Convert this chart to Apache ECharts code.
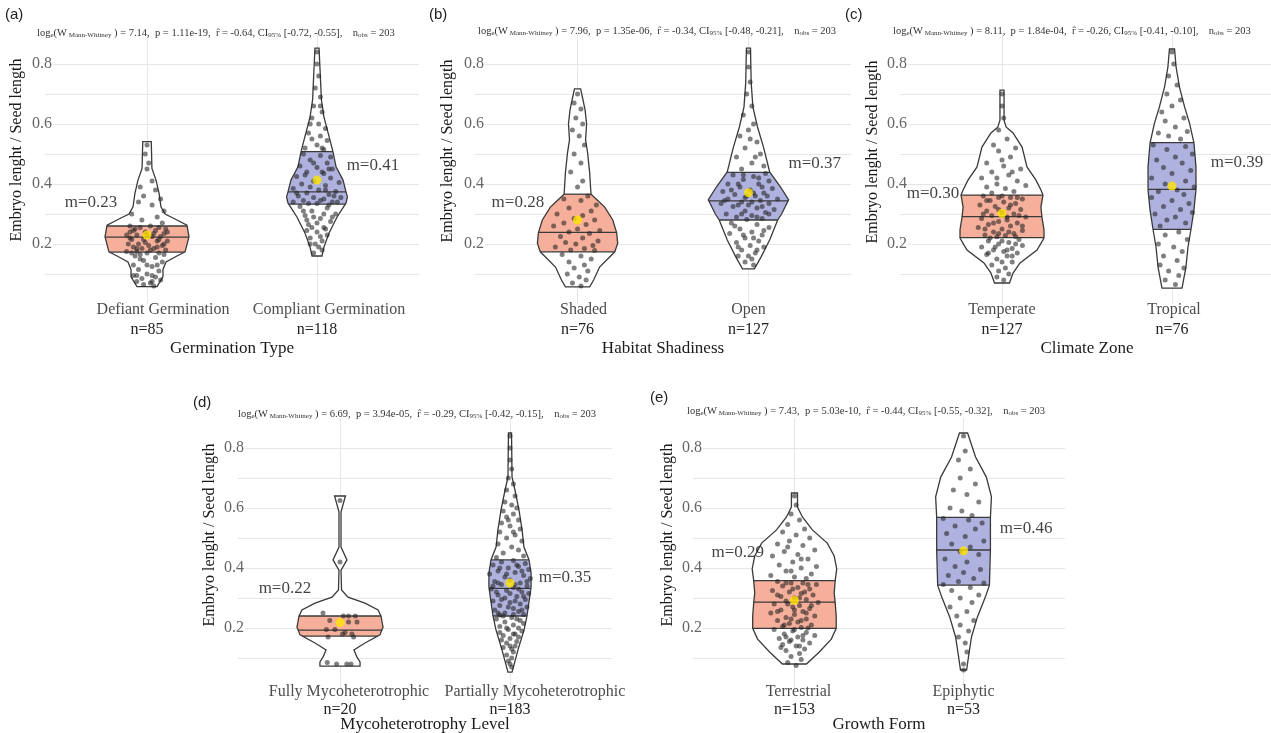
<!DOCTYPE html>
<html><head><meta charset="utf-8">
<script src="https://cdn.jsdelivr.net/npm/echarts@6/dist/echarts.min.js"></script>
<style>html,body{margin:0;padding:0;background:#fff}#c{width:1271px;height:733px}</style>
</head><body><div id="c"></div>
<script>
// ================= DATA =================
const yTickLabels = [0.2, 0.4, 0.6, 0.8];
const panelTags = ['(a)', '(b)', '(c)', '(d)', '(e)'];
const axisTitles = ['Germination Type', 'Habitat Shadiness', 'Climate Zone', 'Mycoheterotrophy Level', 'Growth Form'];
const yTitle = 'Embryo lenght / Seed length';

const categoriesA = ['Defiant Germination', 'Compliant Germination'];
const categoriesB = ['Shaded', 'Open'];
const categoriesC = ['Temperate', 'Tropical'];
const categoriesD = ['Fully Mycoheterotrophic', 'Partially Mycoheterotrophic'];
const categoriesE = ['Terrestrial', 'Epiphytic'];

const countsA = [85, 118];
const countsB = [76, 127];
const countsC = [127, 76];
const countsD = [20, 183];
const countsE = [153, 53];

// [log_e(W), p, r, CI low, CI high, n_obs]
const statsA = ['7.14', '1.11e-19', '-0.64', '-0.72', '-0.55', '203'];
const statsB = ['7.96', '1.35e-06', '-0.34', '-0.48', '-0.21', '203'];
const statsC = ['8.11', '1.84e-04', '-0.26', '-0.41', '-0.10', '203'];
const statsD = ['6.69', '3.94e-05', '-0.29', '-0.42', '-0.15', '203'];
const statsE = ['7.43', '5.03e-10', '-0.44', '-0.55', '-0.32', '203'];

// quartiles [Q1, median, Q3] per category
const quartilesA = [[0.173, 0.223, 0.26], [0.333, 0.374, 0.508]];
const quartilesB = [[0.174, 0.239, 0.366], [0.28, 0.344, 0.439]];
const quartilesC = [[0.221, 0.291, 0.363], [0.249, 0.382, 0.538]];
const quartilesD = [[0.173, 0.193, 0.24], [0.24, 0.332, 0.427]];
const quartilesE = [[0.199, 0.286, 0.358], [0.343, 0.46, 0.569]];

// means per category
const meansA = [0.23, 0.413];
const meansB = [0.28, 0.371];
const meansC = [0.302, 0.393];
const meansD = [0.218, 0.35];
const meansE = [0.292, 0.457];

// violin density outlines: [y, half-width (category units)], top to bottom
const violinA1 = [[0.541,0.025],[0.452,0.029],[0.413,0.053],[0.369,0.071],[0.324,0.082],[0.30,0.106],[0.285,0.159],[0.263,0.235],[0.224,0.247],[0.174,0.224],[0.16,0.176],[0.14,0.112],[0.115,0.094],[0.091,0.094],[0.058,0.059]];
const violinA2 = [[0.853,0.012],[0.78,0.018],[0.68,0.026],[0.623,0.041],[0.547,0.076],[0.507,0.094],[0.457,0.112],[0.413,0.153],[0.373,0.171],[0.357,0.179],[0.337,0.171],[0.29,0.118],[0.237,0.071],[0.19,0.041],[0.16,0.029]];
const violinB1 = [[0.717,0.018],[0.68,0.032],[0.647,0.044],[0.60,0.053],[0.547,0.047],[0.503,0.059],[0.437,0.071],[0.39,0.076],[0.366,0.079],[0.345,0.118],[0.323,0.159],[0.28,0.206],[0.237,0.229],[0.203,0.235],[0.174,0.218],[0.123,0.129],[0.08,0.094],[0.057,0.071]];
const violinB2 = [[0.853,0.012],[0.737,0.016],[0.657,0.026],[0.59,0.053],[0.523,0.088],[0.44,0.124],[0.39,0.188],[0.347,0.235],[0.30,0.194],[0.28,0.171],[0.213,0.124],[0.157,0.074],[0.117,0.035]];
const violinC1 = [[0.713,0.012],[0.613,0.012],[0.59,0.024],[0.57,0.065],[0.523,0.118],[0.457,0.147],[0.413,0.2],[0.38,0.229],[0.363,0.241],[0.323,0.229],[0.29,0.235],[0.247,0.247],[0.22,0.247],[0.18,0.206],[0.137,0.106],[0.103,0.065],[0.07,0.044]];
const violinC2 = [[0.85,0.015],[0.79,0.024],[0.723,0.044],[0.657,0.074],[0.603,0.103],[0.537,0.129],[0.457,0.141],[0.38,0.141],[0.313,0.129],[0.25,0.112],[0.19,0.094],[0.123,0.082],[0.053,0.059]];
const violinD1 = [[0.64,0.032],[0.587,0.006],[0.47,0.006],[0.427,0.041],[0.393,0.006],[0.327,0.009],[0.303,0.047],[0.283,0.147],[0.26,0.224],[0.24,0.241],[0.203,0.253],[0.177,0.235],[0.15,0.147],[0.127,0.082],[0.103,0.1],[0.087,0.118],[0.073,0.118]];
const violinD2 = [[0.85,0.009],[0.703,0.012],[0.66,0.029],[0.593,0.053],[0.527,0.071],[0.47,0.082],[0.427,0.112],[0.383,0.124],[0.337,0.124],[0.24,0.1],[0.193,0.082],[0.127,0.047],[0.053,0.012]];
const violinE1 = [[0.65,0.018],[0.603,0.018],[0.57,0.047],[0.527,0.106],[0.483,0.194],[0.44,0.235],[0.397,0.25],[0.358,0.241],[0.317,0.235],[0.283,0.241],[0.24,0.247],[0.199,0.247],[0.163,0.218],[0.12,0.147],[0.08,0.071]];
const violinE2 = [[0.85,0.024],[0.77,0.071],[0.703,0.135],[0.637,0.165],[0.57,0.159],[0.493,0.159],[0.46,0.159],[0.343,0.153],[0.303,0.129],[0.237,0.082],[0.17,0.047],[0.103,0.029],[0.06,0.018]];

// jittered observations: [x offset from category, y]
const pointsA1 = [[0.00,0.53],[-0.01,0.50],[0.01,0.47],[0.00,0.45],[0.03,0.41],[-0.04,0.39],[0.05,0.38],[-0.02,0.36],[0.08,0.35],[-0.05,0.34],[0.03,0.33],[0.10,0.31],[-0.09,0.30],[0.06,0.29],[-0.03,0.28],[0.09,0.27],
[-0.10,0.26],[-0.04,0.255],[0.02,0.26],[0.07,0.255],[0.11,0.25],[-0.08,0.245],[-0.01,0.24],[0.05,0.245],[0.10,0.235],[-0.12,0.23],[-0.06,0.23],[0.03,0.225],[0.08,0.225],[-0.09,0.215],[-0.02,0.215],[0.06,0.21],[0.12,0.21],[-0.11,0.20],[-0.05,0.20],[0.01,0.195],[0.09,0.195],[-0.08,0.19],[-0.03,0.185],[0.04,0.185],[0.11,0.18],[-0.12,0.175],[-0.06,0.175],[0.00,0.17],[0.07,0.17],
[-0.07,0.16],[0.05,0.155],[-0.02,0.145],[0.09,0.14],[-0.08,0.13],[0.03,0.125],[-0.05,0.115],[0.07,0.11],[0.00,0.10],[-0.08,0.095],[0.05,0.09],[-0.03,0.085],[0.08,0.08],[-0.06,0.075],[0.02,0.07],[-0.02,0.065],[0.04,0.06],
[-0.07,0.25],[0.00,0.23],[0.04,0.235],[-0.10,0.22],[0.10,0.20],[-0.01,0.205],[0.06,0.19],[-0.06,0.185],[0.02,0.18],[-0.09,0.17],[0.10,0.165],[-0.04,0.15],[0.06,0.13],[-0.06,0.095],[0.03,0.075],[0.00,0.13],[-0.10,0.24],[0.12,0.24],[0.07,0.215],[-0.04,0.165],[0.03,0.095]];
const pointsA2 = [[0.00,0.84],[0.00,0.80],[0.01,0.76],[-0.01,0.72],[0.02,0.69],[-0.02,0.66],[0.03,0.64],[-0.03,0.62],[0.01,0.60],[0.05,0.585],[-0.05,0.57],[0.02,0.56],[-0.03,0.55],[0.06,0.545],[0.00,0.53],[-0.07,0.52],[0.04,0.515],
[-0.08,0.50],[0.02,0.495],[0.08,0.49],[-0.04,0.48],[0.06,0.47],[-0.10,0.46],[0.00,0.455],[0.09,0.45],[-0.06,0.44],[0.04,0.435],[-0.12,0.425],[0.08,0.42],[-0.02,0.41],[0.13,0.405],[-0.09,0.40],[0.05,0.395],[-0.14,0.385],[0.01,0.38],[0.11,0.375],[-0.06,0.37],[0.07,0.365],[-0.11,0.36],[-0.02,0.355],[0.14,0.355],[0.04,0.35],[-0.08,0.345],[0.09,0.34],[-0.14,0.34],[0.00,0.335],
[-0.10,0.325],[0.06,0.32],[-0.03,0.31],[0.11,0.30],[-0.07,0.295],[0.02,0.285],[0.08,0.275],[-0.05,0.265],[0.04,0.255],[-0.06,0.245],[0.00,0.24],[0.06,0.23],[-0.04,0.22],[0.03,0.21],[-0.04,0.20],[0.01,0.19],[0.03,0.18],[-0.02,0.17],
[0.05,0.38],[-0.04,0.39],[0.10,0.36],[-0.12,0.37],[0.02,0.345],[-0.05,0.335],[0.12,0.34],[0.07,0.33],[-0.08,0.31],[0.04,0.30],[-0.02,0.29],[0.09,0.29],[-0.06,0.28],[0.00,0.27],[0.05,0.25],[-0.03,0.255],[0.02,0.225],[-0.01,0.20],[0.03,0.44],[-0.07,0.43],[0.07,0.45],[-0.02,0.47],[0.03,0.52],[-0.04,0.60],[0.02,0.66]];
const pointsB1 = [[0.00,0.70],[-0.02,0.67],[0.02,0.65],[-0.01,0.62],[0.03,0.60],[-0.03,0.58],[0.01,0.56],[0.04,0.53],[-0.02,0.50],[0.02,0.47],[-0.04,0.44],[0.03,0.41],[0.00,0.39],
[0.06,0.36],[-0.08,0.35],[0.02,0.345],[0.11,0.33],[-0.05,0.32],[0.08,0.31],[-0.12,0.30],[0.03,0.295],[-0.02,0.285],[0.10,0.28],[-0.08,0.27],[0.05,0.265],[-0.14,0.26],[0.00,0.25],[0.13,0.245],[-0.05,0.24],[0.07,0.235],[-0.10,0.225],[0.03,0.22],[0.12,0.21],[-0.07,0.205],[-0.01,0.20],[0.09,0.195],[-0.13,0.19],[0.04,0.185],[-0.04,0.18],[0.10,0.178],
[-0.09,0.165],[0.02,0.16],[0.08,0.15],[-0.05,0.14],[0.04,0.13],[-0.02,0.12],[0.06,0.11],[-0.06,0.10],[0.01,0.09],[0.05,0.08],[-0.03,0.07],[0.02,0.06]];
const pointsB2 = [[0.00,0.84],[0.00,0.79],[0.01,0.74],[-0.01,0.70],[0.02,0.66],[-0.03,0.63],[0.03,0.60],[0.00,0.58],[-0.05,0.56],[0.05,0.54],[-0.02,0.52],[0.07,0.50],[-0.07,0.49],[0.02,0.47],[0.09,0.46],[-0.04,0.45],
[0.10,0.435],[-0.09,0.43],[0.03,0.425],[-0.03,0.415],[0.12,0.41],[0.06,0.40],[-0.12,0.40],[-0.05,0.39],[0.14,0.385],[0.01,0.38],[-0.15,0.375],[0.09,0.37],[-0.08,0.365],[0.04,0.36],[-0.02,0.355],[0.17,0.35],[-0.12,0.35],[0.07,0.345],[-0.04,0.34],[0.12,0.335],[0.00,0.33],[-0.16,0.335],[-0.09,0.325],[0.05,0.32],[0.15,0.315],[-0.02,0.31],[0.10,0.305],[-0.13,0.30],[0.02,0.295],[-0.07,0.29],[0.08,0.285],[-0.01,0.282],
[-0.10,0.27],[0.05,0.265],[0.12,0.255],[-0.05,0.25],[0.02,0.24],[-0.11,0.235],[0.08,0.23],[-0.02,0.22],[0.06,0.21],[-0.07,0.205],[0.01,0.195],[0.09,0.19],[-0.04,0.18],[0.04,0.17],[-0.06,0.16],[0.02,0.15],[-0.02,0.14],[0.03,0.13],
[-0.06,0.40],[0.08,0.39],[-0.10,0.38],[0.03,0.37],[-0.01,0.36],[0.11,0.36],[-0.14,0.345],[0.02,0.34],[-0.06,0.33],[0.08,0.325],[-0.04,0.30],[0.12,0.30],[0.05,0.29],[-0.08,0.26],[0.09,0.245],[-0.03,0.23],[0.03,0.22],[-0.06,0.19],[0.05,0.18],[0.00,0.16],[0.04,0.49],[-0.03,0.43],[0.06,0.42],[0.01,0.55]];
const pointsC1 = [[0.00,0.70],[0.00,0.66],[0.01,0.62],[-0.02,0.58],
[0.03,0.55],[-0.05,0.53],[0.08,0.52],[-0.02,0.51],[0.05,0.49],[-0.09,0.47],[0.01,0.46],[0.11,0.45],[-0.06,0.44],[0.04,0.43],[-0.12,0.42],[0.09,0.41],[-0.03,0.40],[0.14,0.395],[-0.09,0.39],[0.02,0.385],[0.07,0.375],[-0.06,0.37],
[-0.11,0.36],[-0.02,0.355],[0.05,0.355],[0.12,0.35],[-0.07,0.345],[0.01,0.34],[0.08,0.335],[-0.13,0.33],[-0.04,0.325],[0.04,0.32],[0.11,0.315],[-0.09,0.31],[0.00,0.305],[0.07,0.30],[-0.06,0.295],[0.14,0.29],[-0.12,0.285],[0.03,0.28],[-0.02,0.275],[0.09,0.27],[-0.08,0.265],[0.05,0.26],[-0.14,0.255],[0.00,0.25],[0.12,0.245],[-0.05,0.24],[0.07,0.235],[-0.10,0.23],[0.02,0.228],[-0.03,0.224],
[0.10,0.215],[-0.08,0.21],[0.04,0.205],[-0.02,0.20],[0.12,0.195],[-0.12,0.19],[0.06,0.185],[-0.05,0.18],[0.01,0.175],[0.09,0.17],[-0.09,0.165],[0.03,0.16],[-0.03,0.15],[0.06,0.14],[-0.06,0.13],[0.02,0.12],[-0.02,0.11],[0.04,0.10],[-0.03,0.09],[0.01,0.08],
[0.00,0.36],[0.09,0.355],[-0.09,0.345],[0.05,0.33],[-0.02,0.315],[-0.11,0.30],[0.10,0.295],[0.03,0.29],[-0.05,0.27],[0.12,0.26],[-0.10,0.25],[0.04,0.24],[-0.02,0.235],[0.08,0.225],[-0.07,0.22],[0.00,0.21],[0.08,0.20],[-0.04,0.19],[0.03,0.18],[-0.08,0.17],[0.06,0.16],[0.00,0.14],[-0.03,0.42],[0.06,0.44],[0.00,0.48]];
const pointsC2 = [[0.00,0.84],[0.01,0.80],[-0.02,0.76],[0.03,0.73],[-0.03,0.70],[0.05,0.68],[0.00,0.66],[-0.06,0.64],[0.07,0.62],[-0.04,0.61],[0.02,0.59],[0.09,0.575],[-0.08,0.57],[-0.02,0.56],[0.05,0.55],
[-0.11,0.53],[0.08,0.525],[-0.03,0.515],[0.12,0.50],[0.02,0.49],[-0.09,0.48],[0.06,0.47],[-0.05,0.455],[0.11,0.445],[0.00,0.435],[-0.12,0.42],[0.08,0.41],[-0.04,0.40],[0.13,0.39],[0.03,0.38],[-0.08,0.375],[0.07,0.365],[-0.12,0.355],[0.00,0.345],[0.10,0.335],[-0.05,0.325],[0.05,0.315],[0.12,0.305],[-0.10,0.30],[0.02,0.29],[-0.03,0.28],[0.08,0.27],[-0.07,0.26],
[0.04,0.24],[-0.04,0.23],[0.09,0.215],[-0.08,0.20],[0.01,0.19],[0.06,0.175],[-0.05,0.16],[0.03,0.145],[-0.07,0.13],[0.07,0.12],[-0.02,0.11],[0.04,0.095],[-0.04,0.08],[0.02,0.065]];
const pointsD1 = [[0.00,0.625],[0.00,0.42],[-0.10,0.25],[0.02,0.24],[0.05,0.24],[0.09,0.24],[-0.06,0.225],[0.05,0.22],[0.10,0.22],[-0.08,0.195],[-0.03,0.195],[0.03,0.185],[0.07,0.18],[-0.07,0.17],[0.015,0.18],[0.08,0.17],[-0.075,0.085],[-0.02,0.08],[0.04,0.08],[0.065,0.08]];
const pointsD2 = [[0.00,0.84],[0.00,0.80],[0.00,0.76],[0.01,0.73],[-0.01,0.70],[0.02,0.68],[-0.02,0.66],[0.03,0.64],[-0.03,0.62],[0.01,0.61],[0.04,0.60],[-0.04,0.59],[0.02,0.58],[-0.02,0.57],[0.05,0.56],[-0.05,0.55],[0.00,0.54],[0.06,0.53],[-0.06,0.52],[0.03,0.51],[-0.02,0.50],[0.07,0.49],[-0.07,0.48],[0.01,0.47],[0.05,0.46],[-0.04,0.45],[0.08,0.44],[-0.08,0.435],
[0.02,0.425],[-0.05,0.42],[0.09,0.415],[-0.10,0.41],[0.05,0.405],[-0.01,0.40],[0.11,0.395],[-0.07,0.39],[0.03,0.385],[-0.12,0.38],[0.08,0.375],[-0.03,0.37],[0.12,0.365],[0.00,0.36],[-0.09,0.355],[0.06,0.35],[-0.05,0.345],[0.10,0.34],[0.02,0.335],[-0.11,0.33],[-0.02,0.325],[0.07,0.32],[0.11,0.315],[-0.07,0.31],[0.04,0.305],[-0.03,0.30],[0.09,0.295],[-0.10,0.29],[0.00,0.285],[0.06,0.28],[-0.06,0.275],[0.10,0.27],[0.02,0.265],[-0.09,0.26],[0.05,0.255],[-0.03,0.25],[0.08,0.245],[-0.06,0.243],
[0.01,0.235],[-0.08,0.23],[0.06,0.225],[-0.03,0.22],[0.08,0.215],[0.02,0.21],[-0.06,0.205],[0.05,0.20],[-0.01,0.195],[0.07,0.19],[-0.06,0.185],[0.03,0.18],[-0.04,0.175],[0.05,0.17],[0.00,0.165],[-0.05,0.16],[0.04,0.155],[-0.02,0.15],[0.03,0.14],[-0.04,0.135],[0.01,0.13],[0.02,0.12],[-0.02,0.11],[0.01,0.10],[-0.01,0.09],[0.00,0.08],[0.01,0.07],
[0.04,0.41],[-0.06,0.40],[0.07,0.39],[-0.02,0.38],[0.10,0.355],[-0.07,0.35],[0.03,0.345],[-0.10,0.34],[0.05,0.33],[0.00,0.315],[-0.08,0.32],[0.08,0.305],[-0.05,0.295],[0.03,0.29],[-0.01,0.27],[0.07,0.26],[-0.07,0.25],[0.02,0.245],[-0.04,0.24],[0.04,0.23],[-0.02,0.20],[0.02,0.18],[0.00,0.14],[0.02,0.52],[-0.01,0.56]];
const pointsE1 = [[0.00,0.64],[0.01,0.61],[-0.02,0.58],[0.03,0.56],[-0.04,0.545],[0.06,0.53],[-0.07,0.52],[0.01,0.51],[0.09,0.50],[-0.03,0.49],[-0.10,0.48],[0.05,0.475],[0.12,0.46],[-0.06,0.455],[0.02,0.445],[-0.13,0.44],[0.08,0.43],[-0.01,0.42],[-0.09,0.41],[0.13,0.405],[0.04,0.40],[-0.05,0.39],[0.10,0.38],[-0.14,0.375],[0.00,0.37],[0.07,0.365],
[-0.10,0.355],[-0.02,0.35],[0.05,0.35],[0.13,0.345],[-0.07,0.34],[0.02,0.335],[0.09,0.33],[-0.13,0.325],[-0.03,0.32],[0.04,0.315],[0.11,0.31],[-0.08,0.305],[0.00,0.30],[0.07,0.295],[-0.05,0.29],[0.14,0.285],[-0.12,0.28],[0.03,0.275],[-0.01,0.27],[0.09,0.265],[-0.08,0.26],[0.05,0.255],[-0.14,0.25],[0.00,0.245],[0.12,0.24],[-0.05,0.235],[0.07,0.23],[-0.10,0.225],[0.02,0.22],[-0.03,0.215],[0.10,0.21],[-0.07,0.205],[0.04,0.202],
[-0.12,0.195],[-0.01,0.19],[0.07,0.185],[-0.06,0.18],[0.12,0.175],[0.02,0.17],[-0.09,0.165],[0.05,0.16],[-0.03,0.155],[0.09,0.15],[-0.07,0.145],[0.01,0.14],[0.06,0.13],[-0.05,0.125],[0.03,0.115],[-0.02,0.105],[0.04,0.095],[-0.04,0.085],[0.01,0.075],
[-0.05,0.35],[0.08,0.345],[-0.01,0.33],[0.06,0.32],[-0.10,0.31],[0.03,0.30],[-0.04,0.28],[0.10,0.275],[0.00,0.26],[-0.10,0.255],[0.07,0.25],[-0.02,0.23],[0.04,0.225],[-0.06,0.21],[0.08,0.20],[0.00,0.195],[-0.05,0.17],[0.05,0.175],[-0.02,0.16],[0.03,0.14],[-0.08,0.135],[-0.02,0.39],[0.04,0.43],[-0.04,0.47]];
const pointsE2 = [[0.00,0.84],[0.01,0.79],[-0.03,0.76],[0.04,0.73],[-0.02,0.70],[0.07,0.68],[-0.06,0.66],[0.02,0.645],[0.09,0.62],[-0.08,0.60],[-0.01,0.59],[0.05,0.575],
[-0.12,0.565],[0.03,0.56],[0.11,0.55],[-0.05,0.54],[0.07,0.53],[-0.10,0.515],[0.01,0.505],[0.12,0.49],[-0.07,0.48],[0.04,0.47],[-0.02,0.455],[0.09,0.445],[-0.11,0.43],[0.02,0.42],[-0.05,0.405],[0.10,0.395],[0.00,0.385],[-0.09,0.375],[0.06,0.365],[-0.03,0.355],[0.12,0.35],[-0.12,0.345],
[0.04,0.335],[-0.07,0.325],[0.09,0.31],[-0.02,0.30],[0.05,0.285],[-0.08,0.27],[0.02,0.255],[-0.04,0.24],[0.06,0.225],[-0.02,0.21],[0.03,0.19],[-0.03,0.17],[0.01,0.15],[0.02,0.12],[0.00,0.08],[0.00,0.06]];

// ================= LAYOUT / STYLE =================
const SERIF = 'Liberation Serif';
const FILLS = ['#F5AF9B', '#AFB2DE'];
const panelData = [
  {cats: categoriesA, n: countsA, st: statsA, q: quartilesA, m: meansA, v: [violinA1, violinA2], p: [pointsA1, pointsA2]},
  {cats: categoriesB, n: countsB, st: statsB, q: quartilesB, m: meansB, v: [violinB1, violinB2], p: [pointsB1, pointsB2]},
  {cats: categoriesC, n: countsC, st: statsC, q: quartilesC, m: meansC, v: [violinC1, violinC2], p: [pointsC1, pointsC2]},
  {cats: categoriesD, n: countsD, st: statsD, q: quartilesD, m: meansD, v: [violinD1, violinD2], p: [pointsD1, pointsD2]},
  {cats: categoriesE, n: countsE, st: statsE, q: quartilesE, m: meansE, v: [violinE1, violinE2], p: [pointsE1, pointsE2]}
];
// labShift: horizontal offset (px) of the first label line of each category
const layout = [
  {left: 45,  top: 34,  width: 374, yLab: -8,  tag: [5, 7],     stat: [37, 26],  yName: [17, 150],  lineH: 20, xMargin: -4, nameGap: 36, labShift: [16, 12], mPos: [[0.671, 0.337], [2.329, 0.46]]},
  {left: 475, top: 34,  width: 376, yLab: -10, tag: [429, 7],   stat: [478, 24], yName: [448, 151], lineH: 20, xMargin: -4, nameGap: 36, labShift: [6, 0],   mPos: [[0.651, 0.337], [2.388, 0.467]]},
  {left: 900, top: 34,  width: 374, yLab: -8,  tag: [845, 7],   stat: [893, 24], yName: [873, 152], lineH: 20, xMargin: -4, nameGap: 36, labShift: [0, 2],   mPos: [[0.594, 0.367], [2.382, 0.473]]},
  {left: 238, top: 418, width: 374, yLab: -7,  tag: [193, 395], stat: [238, 407], yName: [210, 535], lineH: 18, xMargin: -5, nameGap: 28, labShift: [9, 25],  mPos: [[0.676, 0.333], [2.324, 0.367]]},
  {left: 693, top: 418, width: 372, yLab: -10, tag: [650, 390], stat: [687, 404], yName: [668, 535], lineH: 18, xMargin: -5, nameGap: 28, labShift: [4, 0],   mPos: [[0.665, 0.45], [2.37, 0.533]]}
];

function widthAt(prof, y) {
  for (let i = 0; i < prof.length - 1; i++) {
    const [y0, w0] = prof[i], [y1, w1] = prof[i + 1];
    if (y <= y0 && y >= y1) { const t = (y0 - y) / (y0 - y1); return w0 + (w1 - w0) * t; }
  }
  return 0;
}
function makeRender(pd) {
  return function (params, api) {
    const i = params.dataIndex;
    const prof = pd.v[i], q = pd.q[i], cx = api.value(0);
    const side = (arr) => arr.map(p => api.coord([cx + p[1], p[0]])).concat(arr.slice().reverse().map(p => api.coord([cx - p[1], p[0]])));
    const outline = side(prof);
    const sub = [[q[2], widthAt(prof, q[2])]].concat(prof.filter(p => p[0] < q[2] && p[0] > q[0])).concat([[q[0], widthAt(prof, q[0])]]);
    const band = side(sub);
    const lines = q.map(v => {
      const w = widthAt(prof, v); const a = api.coord([cx - w, v]), b = api.coord([cx + w, v]);
      return {type: 'line', shape: {x1: a[0], y1: a[1], x2: b[0], y2: b[1]}, style: {stroke: '#3a3a3a', lineWidth: 1.3}};
    });
    return {type: 'group', children: [
      {type: 'polygon', shape: {points: outline}, style: {fill: '#fff'}},
      {type: 'polygon', shape: {points: band}, style: {fill: FILLS[i]}},
      ...lines,
      {type: 'polygon', shape: {points: outline}, style: {fill: 'none', stroke: '#3a3a3a', lineWidth: 1.3}}
    ]};
  };
}
function statText(s) {
  return `{t|log}{s|e}{t|(W}{s| Mann-Whitney}{t| ) = ${s[0]},  p = ${s[1]},  r\u0302 = ${s[2]}, CI}{s|95%}{t| [${s[3]}, ${s[4]}],    n}{s|obs}{t| = ${s[5]}}`;
}

const grid = [], xAxis = [], yAxis = [], series = [], title = [], graphic = [];
panelData.forEach((pd, k) => {
  const L = layout[k];
  const pxPerUnit = L.width / 2.2;
  grid.push({left: L.left, top: L.top, width: L.width, height: 270, containLabel: false, outerBoundsMode: 'none'});
  xAxis.push({
    type: 'value', gridIndex: k, min: 0.4, max: 2.6, interval: 0.2,
    axisLine: {show: false}, axisTick: {show: false, customValues: [1, 2]},
    splitLine: {show: true, lineStyle: {color: '#e6e6e6', width: 1}},
    axisLabel: {
      customValues: [1 + L.labShift[0] / pxPerUnit, 2 + L.labShift[1] / pxPerUnit],
      margin: L.xMargin, interval: 0, hideOverlap: false,
      formatter: (v) => {
        const r = Math.round(v);
        if (r < 1 || r > 2) return '';
        return `{a|${pd.cats[r - 1]}}\n{b${r}|n=${pd.n[r - 1]}}`;
      },
      rich: {
        a: {fontFamily: SERIF, fontSize: 16, color: '#4d4d4d', lineHeight: L.lineH},
        b1: {fontFamily: SERIF, fontSize: 16, color: '#222', lineHeight: L.lineH, padding: [0, 2 * L.labShift[0], 0, 0]},
        b2: {fontFamily: SERIF, fontSize: 16, color: '#222', lineHeight: L.lineH, padding: [0, 2 * L.labShift[1], 0, 0]}
      }
    },
    name: axisTitles[k], nameLocation: 'middle', nameGap: L.nameGap, nameMoveOverlap: false,
    nameTextStyle: {fontFamily: SERIF, fontSize: 17, color: '#1a1a1a'}
  });
  yAxis.push({
    type: 'value', gridIndex: k, min: 0, max: 0.9, interval: 0.1,
    axisLine: {show: false}, axisTick: {show: false},
    splitLine: {show: true, showMinLine: false, showMaxLine: false, lineStyle: {color: '#e6e6e6', width: 1}},
    axisLabel: {
      margin: L.yLab,
      formatter: (v) => yTickLabels.some(t => Math.abs(t - v) < 1e-6) ? `{w|${v.toFixed(1)}}` : '',
      rich: {w: {fontFamily: SERIF, fontSize: 16, color: '#666', backgroundColor: '#fff', padding: [0, 1, 0, 1]}}
    }
  });
  series.push({
    type: 'custom', xAxisIndex: k, yAxisIndex: k, clip: false, silent: true, z: 2,
    renderItem: makeRender(pd), encode: {x: 0, y: 1},
    data: pd.cats.map((c, i) => [i + 1, pd.m[i]])
  });
  series.push({
    type: 'scatter', xAxisIndex: k, yAxisIndex: k, silent: true, z: 3, symbolSize: 5,
    itemStyle: {color: 'rgba(35,35,35,0.72)'},
    data: pd.p[0].map(d => [1 + d[0], d[1]]).concat(pd.p[1].map(d => [2 + d[0], d[1]]))
  });
  series.push({
    type: 'scatter', xAxisIndex: k, yAxisIndex: k, silent: true, z: 4, symbolSize: 9,
    itemStyle: {color: '#FFE400'},
    data: pd.m.map((m, i) => [i + 1, m])
  });
  series.push({
    type: 'scatter', xAxisIndex: k, yAxisIndex: k, silent: true, z: 5, symbolSize: 1,
    itemStyle: {color: 'rgba(0,0,0,0)'},
    label: {show: true, position: 'inside', formatter: '{b}', fontFamily: SERIF, fontSize: 17, color: '#111'},
    data: pd.m.map((m, i) => ({name: 'm=' + m.toFixed(2), value: L.mPos[i]}))
  });
  title.push({text: panelTags[k], left: L.tag[0], top: L.tag[1], padding: 0,
    textStyle: {fontFamily: 'Liberation Sans', fontSize: 15, fontWeight: 'normal', color: '#222'}});
  title.push({text: statText(pd.st), left: L.stat[0], top: L.stat[1], padding: 0,
    textStyle: {fontWeight: 'normal', rich: {
      t: {fontFamily: SERIF, fontSize: 10.5, fontWeight: 'normal', color: '#333', lineHeight: 13, verticalAlign: 'bottom'},
      s: {fontFamily: SERIF, fontSize: 7, fontWeight: 'normal', color: '#333', lineHeight: 10, verticalAlign: 'bottom'}
    }}});
  graphic.push({type: 'text', x: L.yName[0], y: L.yName[1], rotation: Math.PI / 2, silent: true,
    style: {text: yTitle, font: `16px "${SERIF}"`, fill: '#1a1a1a', align: 'center', verticalAlign: 'middle'}});
});

const chart = echarts.init(document.getElementById('c'), null, {renderer: 'canvas'});
chart.setOption({animation: false, backgroundColor: '#fff', title, grid, xAxis, yAxis, series, graphic});
</script>
</body></html>
